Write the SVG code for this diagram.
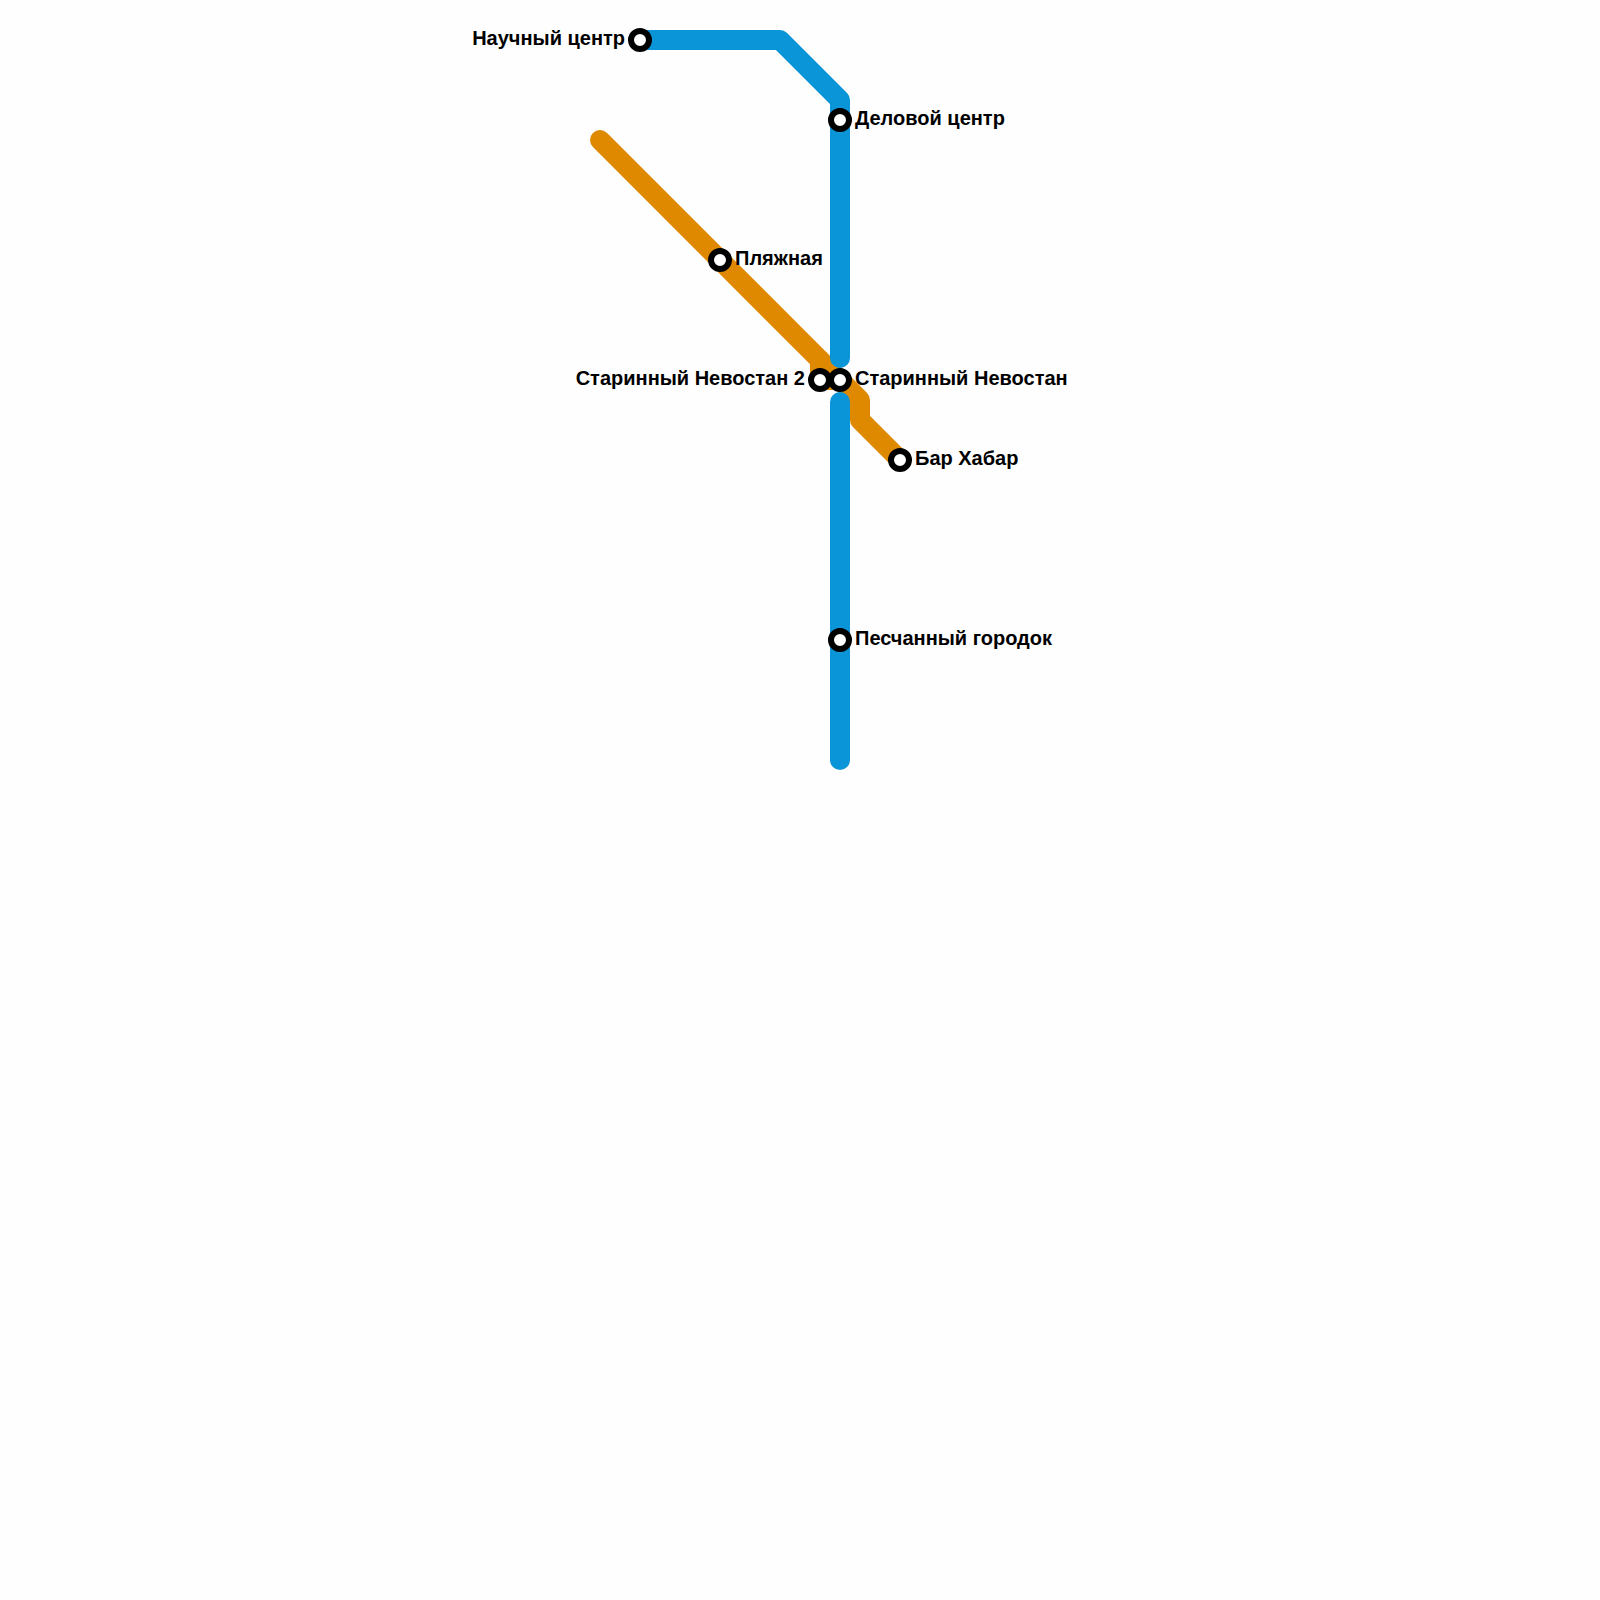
<svg xmlns="http://www.w3.org/2000/svg" width="1600" height="1600" viewBox="0 0 1600 1600">
<style>
.l{fill:none;stroke-width:20;stroke-linecap:round;stroke-linejoin:round}
.b{stroke:#0a95d8}.o{stroke:#df8900}
.s{fill:#fff;stroke:#000;stroke-width:6}
text{font-family:"Liberation Sans",Arial,sans-serif;font-weight:bold;font-size:20px;fill:#000}
.e{text-anchor:end}
</style>
<rect width="1600" height="1600" fill="#fefefe"/>
<g id="connectors">
<path class="l o" d="M600 140L860 400V420L900 460"/>
<path class="l o" d="M820 360V380L840 380"/>
<path class="l b" d="M640 40H780L840 100V358"/>
<path class="l b" d="M840 402V760"/>
</g>
<g id="n1"><circle class="s" cx="640" cy="40" r="9"/><text class="e" x="625" y="45">Научный центр</text></g>
<g id="n2"><circle class="s" cx="840" cy="120" r="9"/><text x="855" y="125">Деловой центр</text></g>
<g id="n3"><circle class="s" cx="720" cy="260" r="9"/><text x="735" y="265">Пляжная</text></g>
<g id="n4"><circle class="s" cx="820" cy="380" r="9"/><text class="e" x="805" y="385">Старинный Невостан 2</text></g>
<g id="n5"><circle class="s" cx="840" cy="380" r="9"/><text x="855" y="385">Старинный Невостан</text></g>
<g id="n6"><circle class="s" cx="900" cy="460" r="9"/><text x="915" y="465">Бар Хабар</text></g>
<g id="n7"><circle class="s" cx="840" cy="640" r="9"/><text x="855" y="645">Песчанный городок</text></g>
</svg>
